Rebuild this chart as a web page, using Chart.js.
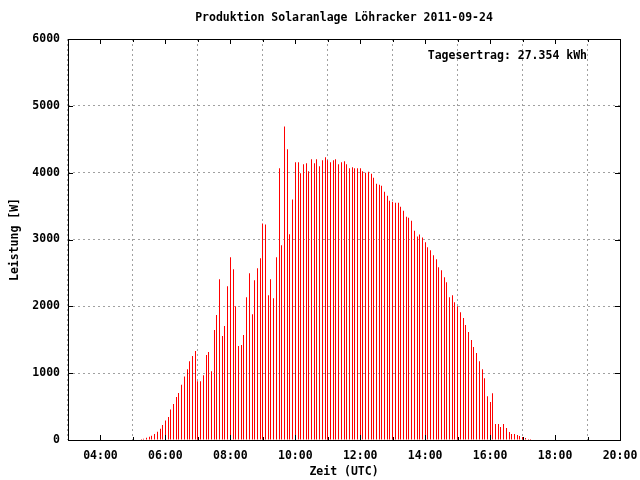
<!DOCTYPE html>
<html>
<head>
<meta charset="utf-8">
<title>Produktion Solaranlage Löhracker 2011-09-24</title>
<script src="https://cdn.jsdelivr.net/npm/chart.js@4.4.0/dist/chart.umd.min.js"></script>
<style>
  body { margin: 0; background: #fff; }
  canvas { display: block; }
</style>
</head>
<body>
<canvas id="solarChart" width="640" height="480"></canvas>
<script>
const chartTitle = 'Produktion Solaranlage Löhracker 2011-09-24';
const yieldText = 'Tagesertrag: 27.354 kWh';
const xTitle = 'Zeit (UTC)';
const yTitle = 'Leistung [W]';
const xTickHours = [4, 6, 8, 10, 12, 14, 16, 18, 20];
const yTicks = [0, 1000, 2000, 3000, 4000, 5000, 6000];

// one sample every 5 minutes, first at 05:15
const firstSampleMinute = 5 * 60 + 15;
const sampleStepMinutes = 5;

// power in W
const power = [
  15, 20, 35, 50, 65, 90, 125, 170, 225, 290, 345, 455, 540, 645, 705, 825, 950,
  1060, 1180, 1255, 1330, 880, 880, 970, 1270, 1315, 1030, 1645, 1870, 2405, 1555, 1705, 2300, 2735, 2555, 2000, 1405, 1420, 1570,
  2135, 2495, 1880, 2390, 2570, 2720, 3240, 3225, 2165, 2405, 2120, 2735, 4065, 2915, 4690, 4350, 3080, 3600, 4155, 4155, 3990, 4125,
  4140, 4020, 4200, 4140, 4200, 4095, 4185, 4230, 4185, 4155, 4185, 4200, 4125, 4155, 4170, 4125, 4065, 4080, 4065, 4065, 4065, 4020,
  4000, 4015, 3985, 3925, 3835, 3820, 3805, 3715, 3655, 3580, 3565, 3550, 3550, 3490, 3430, 3340, 3325, 3280, 3130, 3045, 3075, 3030,
  2960, 2885, 2840, 2765, 2705, 2585, 2540, 2435, 2360, 2135, 2165, 2060, 2000, 1910, 1825, 1720, 1615, 1495, 1390, 1300, 1180, 1060, 925,
  655, 570, 700, 240, 240, 195, 240, 180, 120, 90, 90, 75, 60, 45, 30, 15, 15
];

const monoFont = { family: "'DejaVu Sans Mono', 'Liberation Mono', monospace", size: 11.5, weight: 'bold' };
const fontCss = "bold 11.5px 'DejaVu Sans Mono', 'Liberation Mono', monospace";

const points = power.map((w, i) => ({
  x: (firstSampleMinute + i * sampleStepMinutes) / 60,
  y: w
}));

// snap the 1px impulses onto whole pixels so they stay crisp
const snapPlugin = {
  id: 'snap',
  afterDatasetsUpdate(chart) {
    chart.getDatasetMeta(0).data.forEach(bar => {
      bar.x = Math.floor(bar.x) + 0.5;
    });
  }
};

// gnuplot style frame: box, inward ticks, title and the yield label
const framePlugin = {
  id: 'frame',
  afterDraw(chart) {
    const ctx = chart.ctx;
    const area = chart.chartArea;
    const xs = chart.scales.x;
    const ys = chart.scales.y;
    ctx.save();
    ctx.strokeStyle = '#000';
    ctx.lineWidth = 1;
    ctx.strokeRect(Math.round(area.left) + 0.5, Math.round(area.top) + 0.5,
      Math.round(area.right - area.left), Math.round(area.bottom - area.top));

    ctx.beginPath();
    for (let h = 4; h < 20; h++) {
      const px = Math.round(xs.getPixelForValue(h)) + 0.5;
      const len = h % 2 === 0 ? 5 : 3;
      ctx.moveTo(px, area.bottom); ctx.lineTo(px, area.bottom - len);
      ctx.moveTo(px, area.top); ctx.lineTo(px, area.top + len);
    }
    yTicks.slice(1, -1).forEach(v => {
      const py = Math.round(ys.getPixelForValue(v)) + 0.5;
      ctx.moveTo(area.left, py); ctx.lineTo(area.left + 5, py);
      ctx.moveTo(area.right, py); ctx.lineTo(area.right - 5, py);
    });
    ctx.stroke();

    ctx.fillStyle = '#000';
    ctx.font = fontCss;
    ctx.textBaseline = 'middle';
    ctx.textAlign = 'center';
    ctx.fillText(chartTitle, 344, 18);
    ctx.textAlign = 'right';
    ctx.fillText(yieldText, 587, 56);
    ctx.restore();
  }
};

new Chart(document.getElementById('solarChart'), {
  type: 'bar',
  data: {
    datasets: [{
      data: points,
      backgroundColor: '#ff0000',
      borderWidth: 0,
      barThickness: 1,
      inflateAmount: 0,
      grouped: false
    }]
  },
  options: {
    responsive: false,
    animation: false,
    layout: { padding: { top: 39, right: 20, left: 0, bottom: 0 } },
    plugins: {
      legend: { display: false },
      tooltip: { enabled: false }
    },
    scales: {
      x: {
        type: 'linear',
        min: 3,
        max: 20,
        offset: false,
        afterBuildTicks: scale => { scale.ticks = xTickHours.map(v => ({ value: v })); },
        afterFit: scale => {
          scale.height = 40;
          scale.paddingLeft = 0;
          scale.paddingRight = 0;
        },
        ticks: {
          autoSkip: false,
          maxRotation: 0,
          padding: 9,
          color: '#000',
          font: monoFont,
          callback: v => String(v).padStart(2, '0') + ':00'
        },
        grid: { color: '#a0a0a0', drawTicks: false },
        border: { display: false, dash: [2, 3] },
        title: { display: true, text: xTitle, color: '#000', font: monoFont, padding: { top: 0, bottom: 1 } }
      },
      y: {
        min: 0,
        max: 6000,
        afterBuildTicks: scale => { scale.ticks = yTicks.map(v => ({ value: v })); },
        afterFit: scale => { scale.width = 68; },
        ticks: { padding: 8, color: '#000', font: monoFont, callback: v => String(v) },
        grid: { color: '#a0a0a0', drawTicks: false },
        border: { display: false, dash: [2, 3] },
        title: { display: true, text: yTitle, color: '#000', font: monoFont, padding: { top: 8, bottom: 0 } }
      }
    }
  },
  plugins: [snapPlugin, framePlugin]
});
</script>
</body>
</html>
